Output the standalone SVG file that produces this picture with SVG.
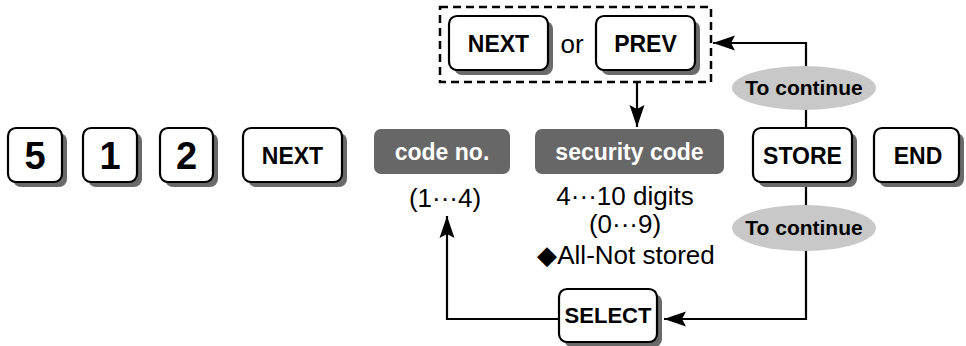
<svg xmlns="http://www.w3.org/2000/svg" width="966" height="346" viewBox="0 0 966 346">
<defs>
<style>
.key{fill:#fff;stroke:#000;stroke-width:2.2}
.sh{fill:#6a6a6a}
.gray{fill:#676767}
.lbl{font-family:"Liberation Sans",Arial,sans-serif;font-weight:bold;text-anchor:middle;fill:#000}
.wl{font-family:"Liberation Sans",Arial,sans-serif;font-weight:bold;text-anchor:middle;fill:#fff;font-size:23px}
.reg{font-family:"Liberation Sans",Arial,sans-serif;text-anchor:middle;fill:#000;font-size:26px}
.ell{fill:#c8c8c8}
.con{fill:none;stroke:#000;stroke-width:2.2}
</style>
<marker id="ah" markerUnits="userSpaceOnUse" markerWidth="24" markerHeight="16" refX="22" refY="8" orient="auto">
<path d="M0,0.5 L22,8 L0,15.5 L4,8 z" fill="#000"/>
</marker>
</defs>
<rect width="966" height="346" fill="#fff"/>

<g id="connectors">
<path class="con" d="M637,82 V127" marker-end="url(#ah)"/>
<path class="con" d="M806,128 V43 H713" marker-end="url(#ah)"/>
<path class="con" d="M806,182 V319 H664" marker-end="url(#ah)"/>
<path class="con" d="M559,319 H447 V216" marker-end="url(#ah)"/>
</g>

<g id="key5">
<rect class="sh" x="13" y="133" width="54" height="54" rx="8"/>
<rect class="key" x="8" y="128" width="54" height="54" rx="8"/>
<text class="lbl" x="35" y="169" font-size="38">5</text>
</g>
<g id="key1">
<rect class="sh" x="88" y="133" width="54" height="54" rx="8"/>
<rect class="key" x="83" y="128" width="54" height="54" rx="8"/>
<text class="lbl" x="110" y="169" font-size="38">1</text>
</g>
<g id="key2">
<rect class="sh" x="165" y="133" width="53" height="54" rx="8"/>
<rect class="key" x="160" y="128" width="53" height="54" rx="8"/>
<text class="lbl" x="186.5" y="169" font-size="38">2</text>
</g>
<g id="next">
<rect class="sh" x="248" y="133" width="99" height="54" rx="8"/>
<rect class="key" x="243" y="128" width="99" height="54" rx="8"/>
<text class="lbl" x="292.5" y="164" font-size="23">NEXT</text>
</g>
<g id="codeno">
<rect class="gray" x="374" y="129" width="136" height="45" rx="7"/>
<text class="wl" x="442" y="160">code no.</text>
<text class="reg" x="445" y="207">(1···4)</text>
</g>
<g id="seccode">
<rect class="gray" x="535" y="129" width="189" height="45" rx="7"/>
<text class="wl" x="629.5" y="160">security code</text>
<text class="reg" x="625" y="205">4···10 digits</text>
<text class="reg" x="625" y="233">(0···9)</text>
<text class="reg" x="626" y="264">◆All-Not stored</text>
</g>
<g id="nextprev">
<rect x="440" y="7" width="271" height="75" fill="none" stroke="#000" stroke-width="2.5" stroke-dasharray="8,5"/>
<rect class="sh" x="454" y="21" width="99" height="54" rx="8"/>
<rect class="key" x="449" y="16" width="99" height="54" rx="8"/>
<text class="lbl" x="498.5" y="52" font-size="23">NEXT</text>
<text class="reg" x="572" y="53">or</text>
<rect class="sh" x="601" y="21" width="99" height="54" rx="8"/>
<rect class="key" x="596" y="16" width="99" height="54" rx="8"/>
<text class="lbl" x="645.5" y="52" font-size="23">PREV</text>
</g>
<g id="cont-top">
<ellipse class="ell" cx="804" cy="88" rx="72" ry="22"/>
<text class="lbl" x="804" y="95" font-size="21">To continue</text>
</g>
<g id="store">
<rect class="sh" x="758" y="133" width="99" height="54" rx="8"/>
<rect class="key" x="753" y="128" width="99" height="54" rx="8"/>
<text class="lbl" x="802.5" y="164" font-size="23">STORE</text>
</g>
<g id="end">
<rect class="sh" x="879" y="133" width="85" height="54" rx="8"/>
<rect class="key" x="874" y="128" width="85" height="54" rx="8"/>
<text class="lbl" x="918" y="164" font-size="23">END</text>
</g>
<g id="cont-bottom">
<ellipse class="ell" cx="804" cy="228" rx="72" ry="23"/>
<text class="lbl" x="804" y="235" font-size="21">To continue</text>
</g>
<g id="select">
<rect class="sh" x="564" y="294" width="98" height="53" rx="8"/>
<rect class="key" x="559" y="289" width="98" height="53" rx="8"/>
<text class="lbl" x="608" y="323" font-size="22">SELECT</text>
</g>
</svg>
